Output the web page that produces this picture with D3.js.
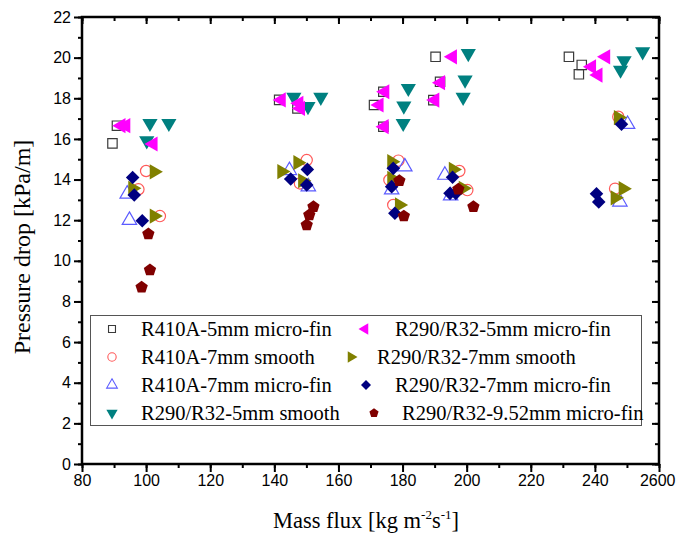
<!DOCTYPE html>
<html>
<head>
<meta charset="utf-8">
<script src="https://cdn.jsdelivr.net/npm/d3@7"></script>
<style>
  html, body { margin: 0; padding: 0; background: #fff; }
  svg { display: block; }
</style>
</head>
<body>
<svg id="chart" width="676" height="538"></svg>
<script>
// Pressure drop vs mass flux for the tested refrigerant / tube combinations.
const xTicks = [80, 100, 120, 140, 160, 180, 200, 220, 240, 260];
const yTicks = [0, 2, 4, 6, 8, 10, 12, 14, 16, 18, 20, 22];

const seriesNames = [
  "R410A-5mm micro-fin",
  "R410A-7mm smooth",
  "R410A-7mm micro-fin",
  "R290/R32-5mm smooth",
  "R290/R32-5mm micro-fin",
  "R290/R32-7mm smooth",
  "R290/R32-7mm micro-fin",
  "R290/R32-9.52mm micro-fin"
];

// [mass flux, pressure drop]
const r410a5mmMicroFin = [
  [89.5, 15.78], [90.9, 16.65],
  [141.5, 17.92], [147.2, 17.5],
  [171.1, 17.67], [174.0, 18.32], [174.0, 16.6],
  [190.3, 20.04], [191.7, 18.81], [189.6, 17.91],
  [231.9, 20.04], [235.9, 19.64], [235.0, 19.18]
];
const r410a7mmSmooth = [
  [100.0, 14.42], [97.6, 13.52], [104.3, 12.2],
  [150.1, 14.96], [148.0, 13.81],
  [178.7, 14.93], [175.9, 13.98], [177.1, 12.75],
  [197.7, 14.42], [200.2, 13.48],
  [247.3, 17.09], [246.3, 13.55]
];
const r410a7mmMicroFin = [
  [94.1, 13.29], [94.8, 12.0],
  [144.7, 14.45], [150.6, 13.65],
  [180.7, 14.63], [176.6, 13.5],
  [193.2, 14.22], [195.0, 13.2],
  [250.2, 16.72], [247.8, 12.9]
];
const r290r32_5mmSmooth = [
  [101.2, 16.77], [107.1, 16.77], [100.2, 15.91],
  [146.1, 18.05], [150.5, 17.6], [154.5, 18.05],
  [181.8, 18.49], [180.4, 17.62], [180.2, 16.77],
  [200.5, 20.21], [199.5, 18.9], [198.9, 18.05],
  [254.9, 20.29], [249.1, 19.85], [248.0, 19.39]
];
const r290r32_5mmMicroFin = [
  [92.2, 16.65], [93.7, 16.65], [102.2, 15.75],
  [142.2, 17.92], [147.7, 17.75], [148.2, 17.5],
  [172.7, 17.67], [174.5, 18.32], [174.3, 16.6],
  [195.6, 20.04], [191.9, 18.77], [190.1, 17.91],
  [243.4, 20.04], [239.0, 19.55], [241.0, 19.14]
];
const r290r32_7mmSmooth = [
  [102.5, 14.38], [95.8, 13.57], [102.5, 12.2],
  [142.3, 14.39], [147.3, 14.83], [148.8, 13.94],
  [176.6, 14.88], [176.6, 14.06], [179.0, 12.75],
  [195.8, 14.5], [198.9, 13.57],
  [247.3, 17.05], [246.3, 13.1], [248.8, 13.55]
];
const r290r32_7mmMicroFin = [
  [95.8, 14.1], [96.3, 13.24], [98.8, 11.97],
  [150.3, 14.5], [145.1, 14.03], [150.1, 13.73],
  [177.1, 14.55], [176.6, 13.65], [177.6, 12.34],
  [195.6, 14.11], [194.8, 13.32], [196.6, 13.32],
  [248.3, 16.72], [240.5, 13.3], [241.2, 12.9]
];
const r290r32_952mmMicroFin = [
  [100.7, 11.32], [101.2, 9.55], [98.6, 8.7],
  [152.2, 12.66], [150.9, 12.25], [150.1, 11.76],
  [179.0, 13.94], [180.4, 12.2],
  [197.4, 13.52], [202.1, 12.66]
];

// Regular pentagon symbol (point up)
const symbolPentagon = {
  draw(context, size) {
    const r = Math.sqrt(size / 2.3776);
    for (let i = 0; i < 5; i++) {
      const a = -Math.PI / 2 + i * 2 * Math.PI / 5;
      const px = r * Math.cos(a), py = r * Math.sin(a);
      if (i === 0) context.moveTo(px, py); else context.lineTo(px, py);
    }
    context.closePath();
  }
};

const styles = [
  { data: r410a5mmMicroFin, type: d3.symbolSquare, size: 88, rot: 0, fill: "none", stroke: "#3a3a3a" },
  { data: r410a7mmSmooth, type: d3.symbolCircle, size: 100, rot: 0, fill: "none", stroke: "#ff5a5a" },
  { data: r410a7mmMicroFin, type: d3.symbolTriangle, size: 90, rot: 0, fill: "none", stroke: "#5b5bff" },
  { data: r290r32_5mmSmooth, type: d3.symbolTriangle, size: 100, rot: 180, fill: "#008080", stroke: "none" },
  { data: r290r32_5mmMicroFin, type: d3.symbolTriangle, size: 100, rot: -90, fill: "#ff00ff", stroke: "none" },
  { data: r290r32_7mmSmooth, type: d3.symbolTriangle, size: 100, rot: 90, fill: "#808000", stroke: "none" },
  { data: r290r32_7mmMicroFin, type: d3.symbolSquare, size: 92, rot: 45, fill: "#000080", stroke: "none" },
  { data: r290r32_952mmMicroFin, type: symbolPentagon, size: 100, rot: 0, fill: "#800000", stroke: "none" }
];

const svg = d3.select("#chart");
const margin = { left: 82, right: 17, top: 17, bottom: 74 };
const W = 676, H = 538;
const x = d3.scaleLinear().domain([80, 260]).range([margin.left, W - margin.right]);
const y = d3.scaleLinear().domain([0, 22]).range([H - margin.bottom, margin.top]);

const minorX = d3.range(80, 261, 10);
const minorY = d3.range(0, 23, 1);

const tickFont = "'Liberation Sans', Arial, sans-serif";
const serif = "'Liberation Serif', 'Times New Roman', serif";

function styleAxis(g) {
  g.select(".domain").remove();
  g.selectAll(".tick line").attr("stroke", "#000").attr("stroke-width", 2);
  g.selectAll(".tick text").attr("fill", "#000").style("font-family", tickFont).style("font-size", "16px");
}

// minor ticks
const gMinor = svg.append("g");
gMinor.append("g").attr("transform", `translate(0,${y(0)})`)
  .call(d3.axisBottom(x).tickValues(minorX).tickSize(4).tickFormat(""))
  .call(styleAxis);
gMinor.append("g").attr("transform", `translate(0,${y(22)})`)
  .call(d3.axisBottom(x).tickValues(minorX).tickSize(4).tickFormat(""))
  .call(styleAxis);
gMinor.append("g").attr("transform", `translate(${x(80)},0)`)
  .call(d3.axisLeft(y).tickValues(minorY).tickSize(4).tickFormat(""))
  .call(styleAxis);
gMinor.append("g").attr("transform", `translate(${x(260)},0)`)
  .call(d3.axisLeft(y).tickValues(minorY).tickSize(4).tickFormat(""))
  .call(styleAxis);

// major ticks with labels
svg.append("g").attr("transform", `translate(0,${y(0)})`)
  .call(d3.axisBottom(x).tickValues(xTicks).tickSize(8).tickPadding(3)
    .tickFormat(d => d === 260 ? "2600" : String(d)))
  .call(styleAxis)
  .call(g => g.selectAll(".tick text").filter(d => d === 260)
    .attr("text-anchor", "end").attr("dx", "16"));
svg.append("g").attr("transform", `translate(${x(80)},0)`)
  .call(d3.axisLeft(y).tickValues(yTicks).tickSize(8).tickPadding(3))
  .call(styleAxis);
// inward ticks on top and right
svg.append("g").attr("transform", `translate(0,${y(22)})`)
  .call(d3.axisBottom(x).tickValues(xTicks).tickSize(7).tickFormat(""))
  .call(styleAxis);
svg.append("g").attr("transform", `translate(${x(260)},0)`)
  .call(d3.axisLeft(y).tickValues(yTicks).tickSize(7).tickFormat(""))
  .call(styleAxis);

// frame
svg.append("rect")
  .attr("x", x(80)).attr("y", y(22))
  .attr("width", x(260) - x(80)).attr("height", y(0) - y(22))
  .attr("fill", "none").attr("stroke", "#000").attr("stroke-width", 2.5);

// data points
styles.forEach(s => {
  const sym = d3.symbol().type(s.type).size(s.size);
  svg.append("g").selectAll("path").data(s.data).join("path")
    .attr("d", sym)
    .attr("transform", d => `translate(${x(d[0])},${y(d[1])}) rotate(${s.rot})`)
    .attr("fill", s.fill)
    .attr("stroke", s.stroke)
    .attr("stroke-width", 1.2);
});

// legend
const lg = svg.append("g");
lg.append("rect")
  .attr("x", 90.5).attr("y", 315.5).attr("width", 551).attr("height", 110)
  .attr("fill", "#fff").attr("stroke", "#555").attr("stroke-width", 1);
const rowY = [329, 357, 385, 413];
const legendItems = [
  { s: 0, mx: 112, tx: 141, row: 0 },
  { s: 1, mx: 112, tx: 141, row: 1 },
  { s: 2, mx: 112, tx: 141, row: 2 },
  { s: 3, mx: 112, tx: 141, row: 3 },
  { s: 4, mx: 365, tx: 395, row: 0 },
  { s: 5, mx: 351, tx: 377, row: 1 },
  { s: 6, mx: 366, tx: 395, row: 2 },
  { s: 7, mx: 374, tx: 402, row: 3 }
];
legendItems.forEach(it => {
  const s = styles[it.s];
  lg.append("path")
    .attr("d", d3.symbol().type(s.type).size(s.size * 0.55)())
    .attr("transform", `translate(${it.mx},${rowY[it.row]}) rotate(${s.rot})`)
    .attr("fill", s.fill).attr("stroke", s.stroke).attr("stroke-width", 1.1);
  lg.append("text")
    .attr("x", it.tx).attr("y", rowY[it.row]).attr("dy", "0.35em")
    .style("font-family", serif).style("font-size", "20.5px")
    .attr("fill", "#000")
    .text(seriesNames[it.s]);
});

// axis titles
const xt = svg.append("text")
  .attr("x", 366).attr("y", 528).attr("text-anchor", "middle")
  .style("font-family", serif).style("font-size", "22.5px").attr("fill", "#000");
xt.append("tspan").text("Mass flux [kg m");
xt.append("tspan").attr("dy", -9).style("font-size", "13px").text("-2");
xt.append("tspan").attr("dy", 9).text("s");
xt.append("tspan").attr("dy", -9).style("font-size", "13px").text("-1");
xt.append("tspan").attr("dy", 9).text("]");

svg.append("text")
  .attr("transform", "translate(30,247) rotate(-90)")
  .attr("text-anchor", "middle")
  .style("font-family", serif).style("font-size", "24px").attr("fill", "#000")
  .text("Pressure drop [kPa/m]");
</script>
</body>
</html>
